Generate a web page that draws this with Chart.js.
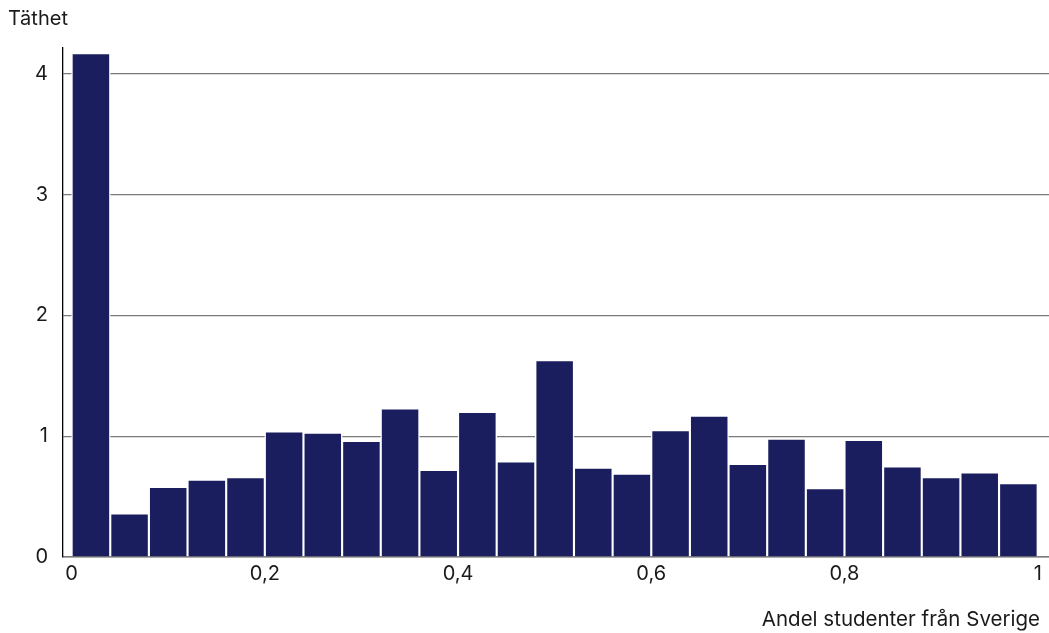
<!DOCTYPE html>
<html>
<head>
<meta charset="utf-8">
<script src="https://cdn.jsdelivr.net/npm/chart.js@4.4.1/dist/chart.umd.min.js"></script>
<style>
  html, body { margin: 0; padding: 0; background: #fff; }
  #wrap { width: 1049px; height: 633px; }
</style>
</head>
<body>
<div id="wrap"><canvas id="histChart"></canvas></div>
<script>
// Mitten av varje stapel (andel, 0-1)
const binCenters = [0.02, 0.06, 0.10, 0.14, 0.18, 0.22, 0.26, 0.30, 0.34, 0.38,
                    0.42, 0.46, 0.50, 0.54, 0.58, 0.62, 0.66, 0.70, 0.74, 0.78,
                    0.82, 0.86, 0.90, 0.94, 0.98];
// Täthet per stapel
const density = [4.17, 0.36, 0.58, 0.64, 0.66, 1.04, 1.03, 0.96, 1.23, 0.72,
                 1.20, 0.79, 1.63, 0.74, 0.69, 1.05, 1.17, 0.77, 0.98, 0.57,
                 0.97, 0.75, 0.66, 0.70, 0.61];
// Etiketter på axlarna
const xTickValues = [0, 0.2, 0.4, 0.6, 0.8, 1];
const yTickValues = [0, 1, 2, 3, 4];
const yLabel = 'Täthet';
const xLabel = 'Andel studenter från Sverige';

const fontFamily = 'Inter, "Liberation Sans", Arial, sans-serif';
const textColor = '#1a1a1a';

// ritar axeltexten på x-axeln (högerjusterad, lite in från kanten)
const xLabelPlugin = {
    id: 'xLabelPlugin',
    afterDraw(chart) {
        const ctx = chart.ctx;
        ctx.save();
        ctx.font = '20.5px ' + fontFamily;
        ctx.fillStyle = textColor;
        ctx.textAlign = 'right';
        ctx.textBaseline = 'middle';
        ctx.fillText(xLabel, chart.chartArea.right - 9, 620);
        ctx.restore();
    }
};

const ctx = document.getElementById('histChart').getContext('2d');
new Chart(ctx, {
    type: 'bar',
    data: {
        datasets: [{
            data: binCenters.map((x, i) => ({ x: x, y: density[i] })),
            backgroundColor: '#1b1e5e',
            borderColor: '#ffffff',
            borderWidth: 1.4,
            categoryPercentage: 1,
            barPercentage: 1
        }]
    },
    options: {
        responsive: true,
        maintainAspectRatio: false,
        animation: false,
        layout: { padding: { left: 8, right: 0, top: 0, bottom: 42 } },
        plugins: {
            legend: { display: false },
            tooltip: { enabled: false },
            title: {
                display: true,
                text: yLabel,
                align: 'start',
                color: textColor,
                font: { family: fontFamily, size: 20, weight: 'normal' },
                padding: { top: 7, bottom: 17 }
            }
        },
        scales: {
            x: {
                type: 'linear',
                offset: false,
                min: -0.0089,
                max: 1.0117,
                afterBuildTicks: (scale) => {
                    scale.ticks = xTickValues.map(v => ({ value: v }));
                },
                ticks: {
                    color: textColor,
                    font: { family: fontFamily, size: 20 },
                    padding: 5,
                    maxRotation: 0,
                    autoSkip: false,
                    callback: (value) => String(value).replace('.', ',')
                },
                grid: { display: false, drawTicks: false },
                border: { display: true, color: '#7a7a7a', width: 1.5 }
            },
            y: {
                min: 0,
                max: 4.213,
                afterBuildTicks: (scale) => {
                    scale.ticks = yTickValues.map(v => ({ value: v }));
                },
                afterFit: (scale) => { scale.width = 55; },
                ticks: {
                    color: textColor,
                    font: { family: fontFamily, size: 20 },
                    padding: 15
                },
                grid: { color: '#7a7a7a', lineWidth: 1.3, drawTicks: false },
                border: { display: true, color: '#000000', width: 1.3 }
            }
        }
    },
    plugins: [xLabelPlugin]
});
</script>
</body>
</html>
